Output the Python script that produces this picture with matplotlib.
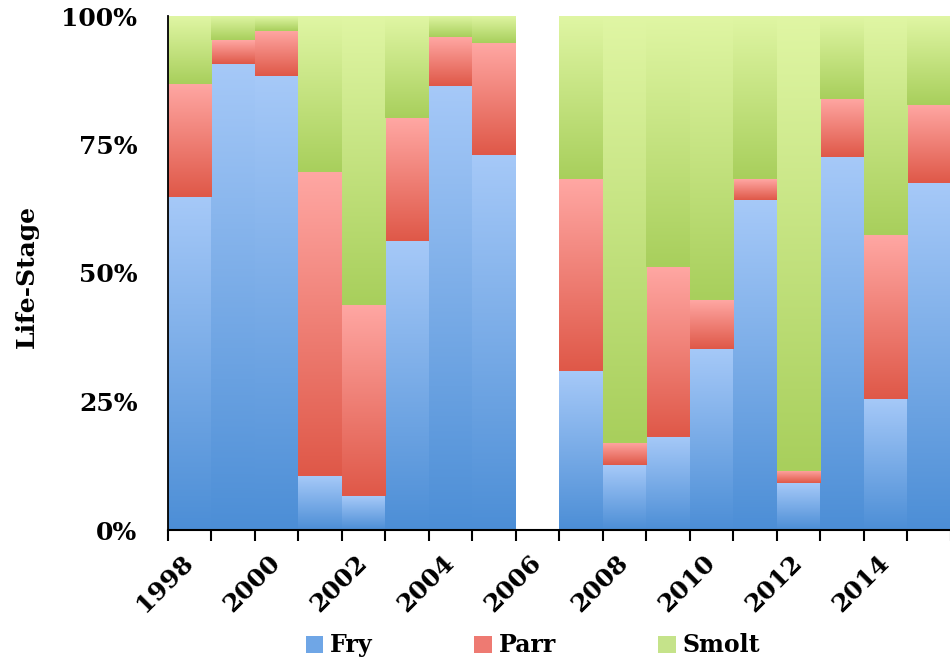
import numpy as np
import matplotlib
matplotlib.use("Agg")
import matplotlib.pyplot as plt
from matplotlib.colors import LinearSegmentedColormap
from matplotlib.patches import Patch
from matplotlib.ticker import FuncFormatter

# sampling years (no data for 2006)
years = [1998, 1999, 2000, 2001, 2002, 2003, 2004, 2005,
         2007, 2008, 2009, 2010, 2011, 2012, 2013, 2014, 2015]

# share of each life stage, percent
fry = [64.8, 90.7, 88.3, 10.5, 6.6, 56.3, 86.4, 73.0,
       30.9, 12.6, 18.1, 35.3, 64.2, 9.1, 72.5, 25.5, 67.5]
parr = [22.0, 4.6, 8.8, 59.2, 37.2, 23.9, 9.5, 21.7,
        37.3, 4.3, 33.1, 9.4, 4.0, 2.4, 11.4, 31.9, 15.2]
smolt = [13.2, 4.7, 2.9, 30.3, 56.2, 19.8, 4.1, 5.3,
         31.8, 83.1, 48.8, 55.3, 31.8, 88.5, 16.1, 42.6, 17.3]

stages = ["Fry", "Parr", "Smolt"]
tick_years = [1998, 2000, 2002, 2004, 2006, 2008, 2010, 2012, 2014]

# (bottom colour, top colour) of the gradient for each stage
grads = {
    "Fry": ("#4c8ed6", "#a6c9f8"),
    "Parr": ("#df5848", "#ffa7a3"),
    "Smolt": ("#a8cf5c", "#e0f6a4"),
}
legend_cols = {"Fry": "#6fa6e6", "Parr": "#ee7a72", "Smolt": "#c5e38a"}

font = "DejaVu Serif"

fig = plt.figure(figsize=(9.5, 6.64), dpi=100)
ax = fig.add_axes([168 / 950, 134 / 664, 1 - 168 / 950 + 0.001, 514 / 664])

x = np.array(years)
ramp = np.linspace(0, 1, 256).reshape(-1, 1)
bottom = np.zeros(len(years))
for name, vals in zip(stages, [fry, parr, smolt]):
    vals = np.array(vals)
    bars = ax.bar(x, vals, width=1.0, bottom=bottom, facecolor="none",
                  edgecolor="none", zorder=2)
    cmap = LinearSegmentedColormap.from_list(name, grads[name])
    for b in bars:
        x0, y0 = b.get_x(), b.get_y()
        ax.imshow(ramp, cmap=cmap, origin="lower", aspect="auto",
                  extent=[x0, x0 + b.get_width(), y0, y0 + b.get_height()],
                  zorder=1, interpolation="bilinear")
    bottom += vals

ax.set_xlim(1997.5, 2015.27)
ax.set_ylim(0, 100)

for side in ["top", "right"]:
    ax.spines[side].set_visible(False)
ax.spines["left"].set_linewidth(1.3)
ax.spines["bottom"].set_linewidth(1.5)

ax.set_yticks([0, 25, 50, 75, 100])
ax.yaxis.set_major_formatter(FuncFormatter(lambda v, p: f"{v:.0f}%"))
ax.tick_params(axis="y", length=0, pad=22)

ax.set_xticks(tick_years)
ax.set_xticklabels([str(y) for y in tick_years], rotation=45, ha="right",
                   va="center", rotation_mode="anchor")
ax.set_xticks(np.arange(1997.5, 2016, 1.0), minor=True)
ax.tick_params(axis="x", which="major", length=0, pad=21)
ax.tick_params(axis="x", which="minor", length=8, width=1.5)

for lab in ax.get_xticklabels() + ax.get_yticklabels():
    lab.set_fontfamily(font)
    lab.set_fontweight("bold")
    lab.set_fontsize(18)

fig.text(27 / 950, 1 - 276 / 664, "Life-Stage", rotation=90, ha="center",
         va="center", family=font, weight="bold", fontsize=18)

handles = [Patch(facecolor=legend_cols[s], edgecolor="none") for s in stages]
fig.legend(handles, stages, loc="center", bbox_to_anchor=(0.561, 0.028),
           ncol=3, frameon=False, handlelength=0.75, handleheight=0.75,
           handletextpad=0.3, columnspacing=4.3,
           prop={"family": font, "weight": "bold", "size": 17})

fig.savefig("out.png", dpi=100)
